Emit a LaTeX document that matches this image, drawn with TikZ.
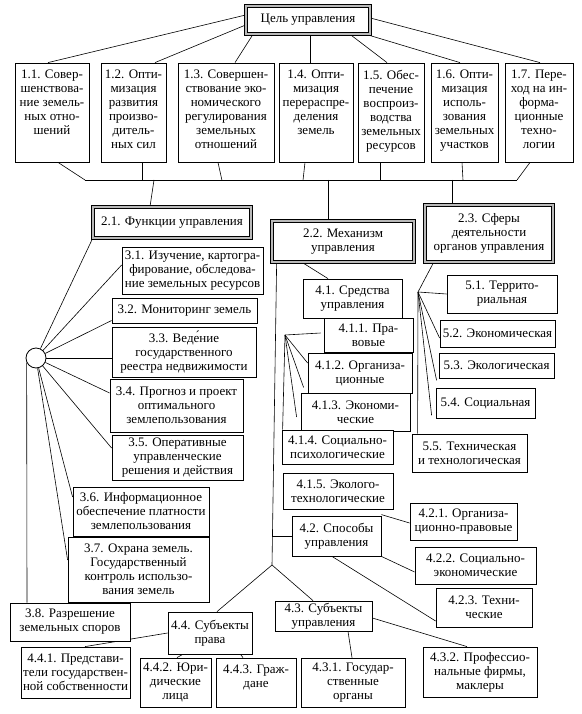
\documentclass[tikz,border=0pt]{standalone}
\usepackage{fontspec}
\setmainfont{Liberation Serif}
\usetikzlibrary{backgrounds}
\tikzset{
 box/.style={draw, fill=white, line width=0.8pt, inner sep=0.5pt, align=center},
 dbox/.style={box, line width=0.7pt, double=gray!55, double distance=1.8pt},
 conn/.style={line width=0.6pt},
 txt/.style={inner sep=0pt, align=center},
}
\newcommand\bx[7][box]{\node[#1, minimum width={#5pt-#3pt}, minimum height={#6pt-#4pt}] (#2) at ({(#3+#5)/2},{(#4+#6)/2}) {#7};}
\newcommand\tbx[6]{\node[box, minimum width={#4pt-#2pt}, minimum height={#5pt-#3pt}] (#1) at ({(#2+#4)/2},{(#3+#5)/2}) {};
 \node[txt, anchor=north] (#1t) at ([yshift=-7pt]#1.north) {#6};}
\begin{document}
\begin{tikzpicture}[x=1pt,y=-1pt, font=\fontsize{13}{14}\selectfont]
\useasboundingbox (0,0) rectangle (581,714);
% level 0
\bx[dbox]{G}{246}{6}{370}{34}{Цель управления}
% level 1
\tbx{c11}{15}{63}{89}{162}{1.1. Совер-\\шенствова-\\ние земель-\\ных отно-\\шений}
\tbx{c12}{101}{63}{166}{162}{1.2. Опти-\\мизация\\развития\\произво-\\дитель-\\ных сил}
\tbx{c13}{178}{63}{274}{162}{1.3. Совершен-\\ствование эко-\\номического\\регулирования\\земельных\\отношений}
\tbx{c14}{279}{63}{353}{162}{1.4. Опти-\\мизация\\перераспре-\\деления\\земель}
\tbx{c15}{358}{63}{424}{162}{1.5. Обес-\\печение\\воспроиз-\\водства\\земельных\\ресурсов}
\tbx{c16}{431}{63}{498}{162}{1.6. Опти-\\мизация\\исполь-\\зования\\земельных\\участков}
\tbx{c17}{505}{63}{573}{162}{1.7. Пере-\\ход на ин-\\форма-\\ционные\\техно-\\логии}
% level 2
\bx[dbox]{f21}{93}{207}{251}{238}{2.1. Функции управления}
\bx[dbox]{f22}{272}{221}{414}{262}{2.2. Механизм\\управления}
\bx[dbox]{f23}{425}{205}{553}{262}{2.3. Сферы\\деятельности\\органов управления}
% functions
\node[draw, circle, minimum size=20pt, inner sep=0pt, line width=0.8pt, fill=white] (circ) at (36,358) {};
\bx{f31}{122}{247}{263}{294}{3.1. Изучение, картогра-\\фирование, обследова-\\ние земельных ресурсов}
\bx{f32}{112}{298}{257}{323}{3.2. Мониторинг земель}
\bx{f33}{112}{327}{256}{377}{3.3. Веде́ние\\государственного\\реестра недвижимости}
\bx{f34}{110}{379}{243}{432}{3.4. Прогноз и проект\\оптимального\\землепользования}
\bx{f35}{112}{435}{243}{480}{3.5. Оперативные\\управленческие\\решения и действия}
\bx{f36}{73}{487}{209}{536}{3.6. Информационное\\обеспечение платности\\землепользования}
\bx{f37}{68}{537}{209}{602}{3.7. Охрана земель.\\Государственный\\контроль использо-\\вания земель}
\bx{f38}{10}{603}{130}{641}{3.8. Разрешение\\земельных споров}
% mechanism
\bx{f41}{303}{279}{402}{318}{4.1. Средства\\управления}
\bx{f411}{324}{318}{413}{352}{4.1.1. Пра-\\вовые}
\bx{f412}{308}{353}{412}{393}{4.1.2. Организа-\\ционные}
\bx{f413}{301}{393}{410}{431}{4.1.3. Экономи-\\ческие}
\bx{f414}{282}{430}{393}{464}{4.1.4. Социально-\\психологические}
\bx{f415}{283}{473}{393}{509}{4.1.5. Эколого-\\технологические}
\bx{f42}{292}{516}{381}{556}{4.2. Способы\\управления}
\bx{f421}{410}{503}{517}{540}{4.2.1. Организа-\\ционно-правовые}
\bx{f422}{415}{547}{536}{584}{4.2.2. Социально-\\экономические}
\bx{f423}{436}{588}{532}{627}{4.2.3. Техни-\\ческие}
\bx{f43}{275}{601}{372}{631}{4.3. Субъекты\\управления}
\bx{f431}{301}{658}{405}{707}{4.3.1. Государ-\\ственные\\органы}
\bx{f432}{423}{647}{537}{697}{4.3.2. Профессио-\\нальные фирмы,\\маклеры}
\bx{f44}{168}{612}{252}{654}{4.4. Субъекты\\права}
\bx{f441}{21}{647}{130}{698}{4.4.1. Представи-\\тели государствен-\\ной собственности}
\bx{f442}{140}{658}{211}{707}{4.4.2. Юри-\\дические\\лица}
\tbx{f443}{216}{658}{296}{707}{4.4.3. Граж-\\дане}
% spheres
\bx{f51}{447}{275}{557}{313}{5.1. Террито-\\риальная}
\bx{f52}{440}{320}{555}{347}{5.2. Экономическая}
\bx{f53}{439}{353}{554}{378}{5.3. Экологическая}
\bx{f54}{436}{388}{535}{418}{5.4. Социальная}
\bx{f55}{412}{434}{527}{472}{5.5. Техническая\\и технологическая}
% connectors
\begin{pgfonlayer}{background}
\draw[conn] ([yshift=5pt]G.west) -- ([xshift=-4pt]c11.north);
\draw[conn] ([yshift=-5pt]G.west) -- ([xshift=21.5pt]c12.north);
\draw[conn] ([xshift=-55pt]G.south) -- ([xshift=9pt]c13.north);
\draw[conn] ([xshift=2pt]G.south) -- ([xshift=-6pt]c14.north);
\draw[conn] ([xshift=42pt]G.south) -- ([xshift=-4pt]c15.north);
\draw[conn] ([xshift=58pt]G.south) -- ([xshift=-4.5pt]c16.north);
\draw[conn] ([yshift=2pt]G.east) -- ([xshift=1pt]c17.north);
\coordinate (busL) at (85,180);
\coordinate (busR) at (517,180);
\draw[conn] (busL) -- (busR);
\draw[conn] ([xshift=6pt]c11.south) -- (busL);
\draw[conn] ([xshift=8.5pt]c12.south) -- ++(0,18);
\draw[conn] ([xshift=-8pt]c13.south) -- ++(4,18);
\draw[conn] ([xshift=-11pt]c14.south) -- ++(-2,18);
\draw[conn] ([xshift=-11pt]c15.south) -- ++(0,18);
\draw[conn] ([xshift=-2.5pt]c16.south) -- ++(1,18);
\draw[conn] ([xshift=-9pt]c17.south) -- (busR);
\coordinate (b1) at (154,180);
\coordinate (b2) at (328,180);
\coordinate (b3) at (452,180);
\draw[conn] (b1) -- ([xshift=-22pt]f21.north);
\draw[conn] (b2) -- ([xshift=-15pt]f22.north);
\draw[conn] (b3) -- ([xshift=-37pt]f23.north);
% functions fan
\draw[conn] (f21.south west) -- (circ);
\draw[conn] (circ) -- ([yshift=5.5pt]f31.west);
\draw[conn] (circ) -- ([yshift=-10pt]f32.west);
\draw[conn] (circ) -- ([yshift=-6pt]f33.west);
\draw[conn] (circ) -- ([yshift=12.5pt]f34.west);
\draw[conn] (circ) -- ([yshift=9.5pt]f35.west);
\draw[conn] (circ) -- ([yshift=14.5pt]f36.west);
\draw[conn] (circ) -- ([yshift=9.5pt]f37.west);
\draw[conn] (circ.206) -- ([xshift=-43pt]f38.north);
% mechanism
\coordinate (m) at (272,565);
\draw[conn] ([xshift=5pt]f22.south west) -- (m);
\draw[conn] (f42.west) -- (f42.west -| m);
\draw[conn] (m) -- ([xshift=7pt]f44.north);
\draw[conn] (m) -- ([xshift=-10.5pt]f43.north);
\draw[conn] ([xshift=-41pt]f22.south) -- ([xshift=-24.5pt]f41.north);
\coordinate (p41) at (285,335);
\draw[conn] (p41) -- ([xshift=-3pt,yshift=2pt]f411.west);
\draw[conn] (p41) -- ([yshift=10pt]f412.west);
\draw[conn] (p41) -- ([xshift=-4pt,yshift=6pt]f412.south west);
\draw[conn] (p41) -- ([xshift=-4pt,yshift=-5pt]f413.west);
\draw[conn] (p41) -- ([xshift=1pt]f414.north west);
\draw[conn] ([yshift=1pt]f42.north east) -- ([yshift=-1.5pt]f421.west);
\draw[conn] (f42.south east) -- ([yshift=-6.5pt]f422.west);
\draw[conn] ([xshift=-4.5pt]f42.south) -- ([yshift=-13.5pt]f423.west);
\draw[conn] ([xshift=24.5pt]f43.south) -- ([xshift=-1pt]f431.north);
\draw[conn] ([yshift=-2pt]f43.east) -- ([xshift=-13pt]f432.north);
\draw[conn] (f44.west) -- ([xshift=9.5pt]f441.north);
\draw[conn] ([xshift=-22pt,yshift=3pt]f44.south) -- ([xshift=1.5pt]f442.north);
\draw[conn] ([xshift=25pt,yshift=7pt]f44.south) -- ([xshift=-13pt]f443.north);
% spheres
\coordinate (p23) at (418,292);
\draw[conn] ([xshift=9pt]f23.south west) -- (p23);
\draw[conn] (p23) -- (f51.west);
\draw[conn] (p23) -- ([yshift=-4.5pt]f52.west);
\draw[conn] (p23) -- ([xshift=-2pt,yshift=-2pt]f53.south west);
\draw[conn] (p23) -- ([xshift=-4pt,yshift=3pt]f54.south west);
\draw[conn] (p23) -- ([xshift=6pt]f55.north west);
\end{pgfonlayer}
\end{tikzpicture}
\end{document}
